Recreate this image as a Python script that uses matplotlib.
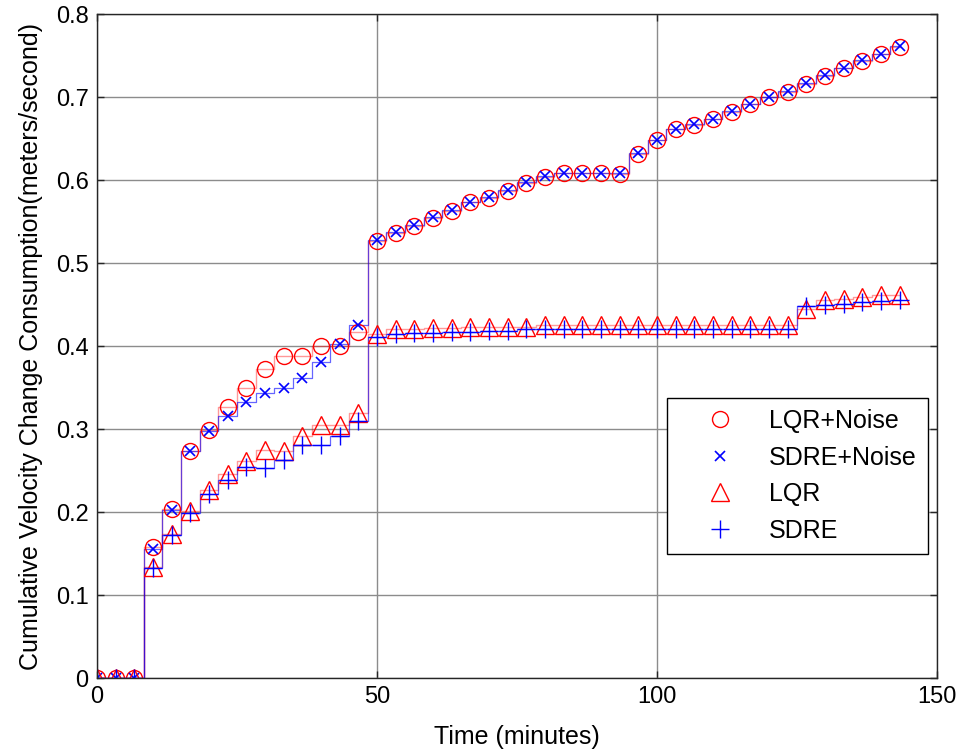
import numpy as np
import matplotlib.pyplot as plt

# Datos (tiempo en minutos)
tiempo = [0, 3.33, 6.67, 10, 13.33, 16.67, 20, 23.33, 26.67, 30, 33.33, 36.67, 40, 43.33, 46.67,
          50, 53.33, 56.67, 60, 63.33, 66.67, 70, 73.33, 76.67, 80, 83.33, 86.67, 90, 93.33, 96.67,
          100, 103.33, 106.67, 110, 113.33, 116.67, 120, 123.33, 126.67, 130, 133.33, 136.67, 140, 143.33]

lqr_ruido = [0, 0, 0, 0.158, 0.204, 0.273, 0.299, 0.326, 0.349, 0.372, 0.388, 0.388, 0.400, 0.400, 0.417,
             0.527, 0.536, 0.545, 0.554, 0.563, 0.573, 0.578, 0.587, 0.596, 0.604, 0.609, 0.609, 0.609, 0.607, 0.631,
             0.648, 0.661, 0.666, 0.673, 0.682, 0.692, 0.700, 0.706, 0.716, 0.725, 0.735, 0.743, 0.752, 0.760]

sdre_ruido = [0, 0, 0, 0.156, 0.203, 0.273, 0.297, 0.316, 0.333, 0.343, 0.349, 0.362, 0.381, 0.403, 0.425,
              0.528, 0.537, 0.546, 0.555, 0.564, 0.573, 0.579, 0.588, 0.597, 0.605, 0.609, 0.609, 0.609, 0.608, 0.632,
              0.648, 0.661, 0.667, 0.674, 0.683, 0.692, 0.700, 0.707, 0.717, 0.726, 0.735, 0.744, 0.752, 0.761]

lqr = [0, 0, 0, 0.134, 0.173, 0.201, 0.226, 0.246, 0.261, 0.275, 0.274, 0.291, 0.305, 0.305, 0.319,
       0.414, 0.421, 0.421, 0.422, 0.422, 0.423, 0.423, 0.423, 0.423, 0.425, 0.425, 0.425, 0.425, 0.425, 0.425,
       0.425, 0.425, 0.425, 0.425, 0.425, 0.425, 0.425, 0.425, 0.445, 0.456, 0.457, 0.459, 0.461, 0.461]

sdre = [0, 0, 0, 0.132, 0.172, 0.199, 0.222, 0.239, 0.254, 0.253, 0.263, 0.281, 0.281, 0.291, 0.310,
        0.411, 0.414, 0.416, 0.416, 0.417, 0.417, 0.418, 0.418, 0.420, 0.420, 0.420, 0.420, 0.420, 0.420, 0.420,
        0.420, 0.420, 0.420, 0.420, 0.420, 0.420, 0.420, 0.420, 0.448, 0.449, 0.451, 0.453, 0.454, 0.455]

etiquetas = ['LQR+Noise', 'SDRE+Noise', 'LQR', 'SDRE']

plt.rcParams['font.family'] = ['Liberation Sans', 'DejaVu Sans']
plt.rcParams['font.size'] = 18

fig = plt.figure(figsize=(9.66, 7.53), dpi=100)
ax = fig.add_axes([0.1004, 0.0996, 0.8696, 0.8818])

# Lineas escalonadas finas
ax.plot(tiempo, lqr_ruido, color='red', alpha=0.4, lw=1, drawstyle='steps-mid')
ax.plot(tiempo, sdre_ruido, color='blue', alpha=0.6, lw=0.9, drawstyle='steps-mid')
ax.plot(tiempo, lqr, color='red', alpha=0.4, lw=1, drawstyle='steps-mid')
ax.plot(tiempo, sdre, color='blue', alpha=0.6, lw=0.9, drawstyle='steps-mid')

# Marcadores
ax.plot(tiempo, lqr_ruido, 'o', mfc='none', mec='red', ms=11.5, mew=1, label=etiquetas[0])
ax.plot(tiempo, sdre_ruido, 'x', color='blue', ms=6.5, mew=1.2, label=etiquetas[1])
ax.plot(tiempo, lqr, '^', mfc='none', mec='red', ms=13, mew=1, label=etiquetas[2])
ax.plot(tiempo, sdre, '+', color='blue', ms=13, mew=1, label=etiquetas[3])

ax.set_xlim(0, 150)
ax.set_ylim(0, 0.8)
ax.set_xticks([0, 50, 100, 150])
ax.set_xticklabels(['0', '50', '100', '150'])
ax.set_yticks([0, 0.1, 0.2, 0.3, 0.4, 0.5, 0.6, 0.7, 0.8])
ax.set_yticklabels(['0', '0.1', '0.2', '0.3', '0.4', '0.5', '0.6', '0.7', '0.8'])
ax.tick_params(direction='in', length=5, top=True, right=True, width=1, color='#262626',
               pad=6, labelsize=17)
ax.grid(True, color='#8c8c8c', lw=1)
for s in ax.spines.values():
    s.set_color('#262626')
    s.set_linewidth(1)

ax.set_xlabel('Time (minutes)', labelpad=12)
ax.set_ylabel('Cumulative Velocity Change Consumption(meters/second)', labelpad=9)

ley = ax.legend(loc='upper left', bbox_to_anchor=(0.679, 0.4217), borderaxespad=0,
                fancybox=False, edgecolor='black', framealpha=1, fontsize=18,
                handlelength=3.3, handletextpad=0.3, labelspacing=0.5, borderpad=0.45)
ley.get_frame().set_linewidth(1)

fig.savefig('out.png', dpi=100)
